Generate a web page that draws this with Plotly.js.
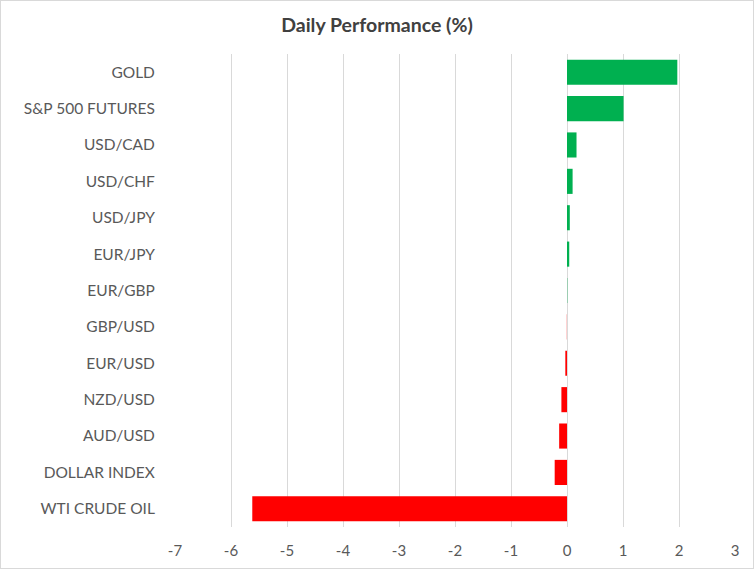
<!DOCTYPE html>
<html>
<head>
<meta charset="utf-8">
<script src="https://cdn.plot.ly/plotly-3.0.1.min.js"></script>
<style>
html,body{margin:0;padding:0;background:#fff;}
#chart{width:754px;height:569px;box-sizing:border-box;border:1px solid #d9d9d9;}
</style>
</head>
<body>
<div id="chart"></div>
<script>
const categories = ["GOLD","S&P 500 FUTURES","USD/CAD","USD/CHF","USD/JPY","EUR/JPY","EUR/GBP","GBP/USD","EUR/USD","NZD/USD","AUD/USD","DOLLAR INDEX","WTI CRUDE OIL"];
const values = [1.97, 1.01, 0.17, 0.10, 0.05, 0.04, 0.005, -0.003, -0.03, -0.10, -0.14, -0.22, -5.62];
const xTicks = [-7,-6,-5,-4,-3,-2,-1,0,1,2,3];

const colors = values.map(v => v >= 0 ? "#00B050" : "#FF0000");

const trace = {
  type: "bar",
  orientation: "h",
  x: values,
  y: categories,
  marker: {color: colors, line: {width: 0}},
  hoverinfo: "x+y"
};

const FONT = "Lato, Open Sans, sans-serif";

const layout = {
  width: 752,
  height: 567,
  margin: {l: 174, r: 18, t: 53, b: 41},
  paper_bgcolor: "#fff",
  plot_bgcolor: "#fff",
  bargap: 0.31,
  showlegend: false,
  title: {
    text: "<b>Daily Performance (%)</b>",
    font: {family: FONT, size: 19.5, color: "#404040"},
    x: 0.5, xanchor: "center", y: 0.958, yanchor: "middle"
  },
  xaxis: {
    range: [-7, 3],
    tickmode: "array",
    tickvals: xTicks,
    ticktext: xTicks.map(String),
    showgrid: true,
    gridcolor: "#d9d9d9",
    gridwidth: 1,
    zeroline: true,
    zerolinecolor: "#d9d9d9",
    zerolinewidth: 1,
    showline: false,
    ticks: "outside",
    ticklen: 10,
    tickcolor: "rgba(0,0,0,0)",
    tickfont: {family: FONT, size: 15, color: "#595959"},
    fixedrange: true
  },
  yaxis: {
    type: "category",
    autorange: "reversed",
    showgrid: false,
    showline: false,
    zeroline: false,
    ticks: "outside",
    ticklen: 16,
    tickcolor: "rgba(0,0,0,0)",
    tickfont: {family: FONT, size: 15.5, color: "#595959"},
    fixedrange: true
  }
};

Plotly.newPlot("chart", [trace], layout, {displayModeBar: false, staticPlot: true});
</script>
</body>
</html>
